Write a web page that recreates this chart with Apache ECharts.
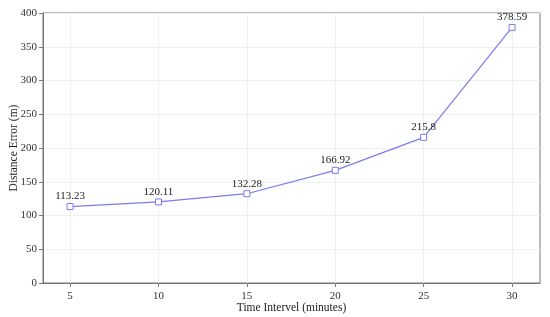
<!DOCTYPE html>
<html>
<head>
<meta charset="utf-8">
<script src="https://cdn.jsdelivr.net/npm/echarts@6/dist/echarts.min.js"></script>
<style>
  html, body { margin: 0; padding: 0; background: #fff; }
  #chart { width: 550px; height: 317px; }
</style>
</head>
<body>
<div id="chart"></div>
<script>
const intervals = [5, 10, 15, 20, 25, 30];
const distErrors = [113.23, 120.11, 132.28, 166.92, 215.8, 378.59];
const xTicks = [5, 10, 15, 20, 25, 30];

const myChart = echarts.init(document.getElementById('chart'));
const lineColor = '#7b7ced';
const axisColor = '#777';
const font = '"Liberation Serif", "Times New Roman", serif';

const option = {
    backgroundColor: '#fff',
    textStyle: { fontFamily: font },
    grid: {
        left: 43, right: 10, top: 13, bottom: 34,
        outerBoundsMode: 'none',
        containLabel: false,
        show: true,
        borderColor: axisColor,
        borderWidth: 1
    },
    xAxis: {
        type: 'value',
        min: 3.47,
        max: 31.58,
        name: 'Time Intervel (minutes)',
        nameLocation: 'middle',
        nameGap: 19,
        nameMoveOverlap: false,
        nameTextStyle: { fontFamily: font, fontSize: 11.5, color: '#222' },
        axisLine: { lineStyle: { color: axisColor } },
        axisTick: { customValues: xTicks, length: 4, lineStyle: { color: axisColor } },
        axisLabel: { customValues: xTicks, fontFamily: font, fontSize: 11, color: '#333', margin: 8 },
        splitLine: { show: true, lineStyle: { color: '#f0f0f3', width: 1 } }
    },
    yAxis: {
        type: 'value',
        min: 0,
        max: 400,
        interval: 50,
        name: 'Distance Error (m)',
        nameLocation: 'middle',
        nameGap: 23,
        nameMoveOverlap: false,
        nameTextStyle: { fontFamily: font, fontSize: 11.5, color: '#222' },
        axisLine: { show: true, lineStyle: { color: axisColor } },
        axisTick: { show: true, length: 4, lineStyle: { color: axisColor } },
        axisLabel: { fontFamily: font, fontSize: 11, color: '#333', margin: 6 },
        splitLine: { lineStyle: { color: '#f0f0f3', width: 1 } }
    },
    series: [
        {
            type: 'line',
            data: intervals.map((x, i) => [x, distErrors[i]]),
            symbol: 'rect',
            symbolSize: 6,
            itemStyle: { color: '#fff', borderColor: lineColor, borderWidth: 1 },
            lineStyle: { color: lineColor, width: 1.2 },
            label: {
                show: true,
                position: 'top',
                distance: 1,
                fontFamily: font,
                fontSize: 11,
                color: '#222'
            },
            z: 3
        }
    ]
};
myChart.setOption(option);
</script>
</body>
</html>
